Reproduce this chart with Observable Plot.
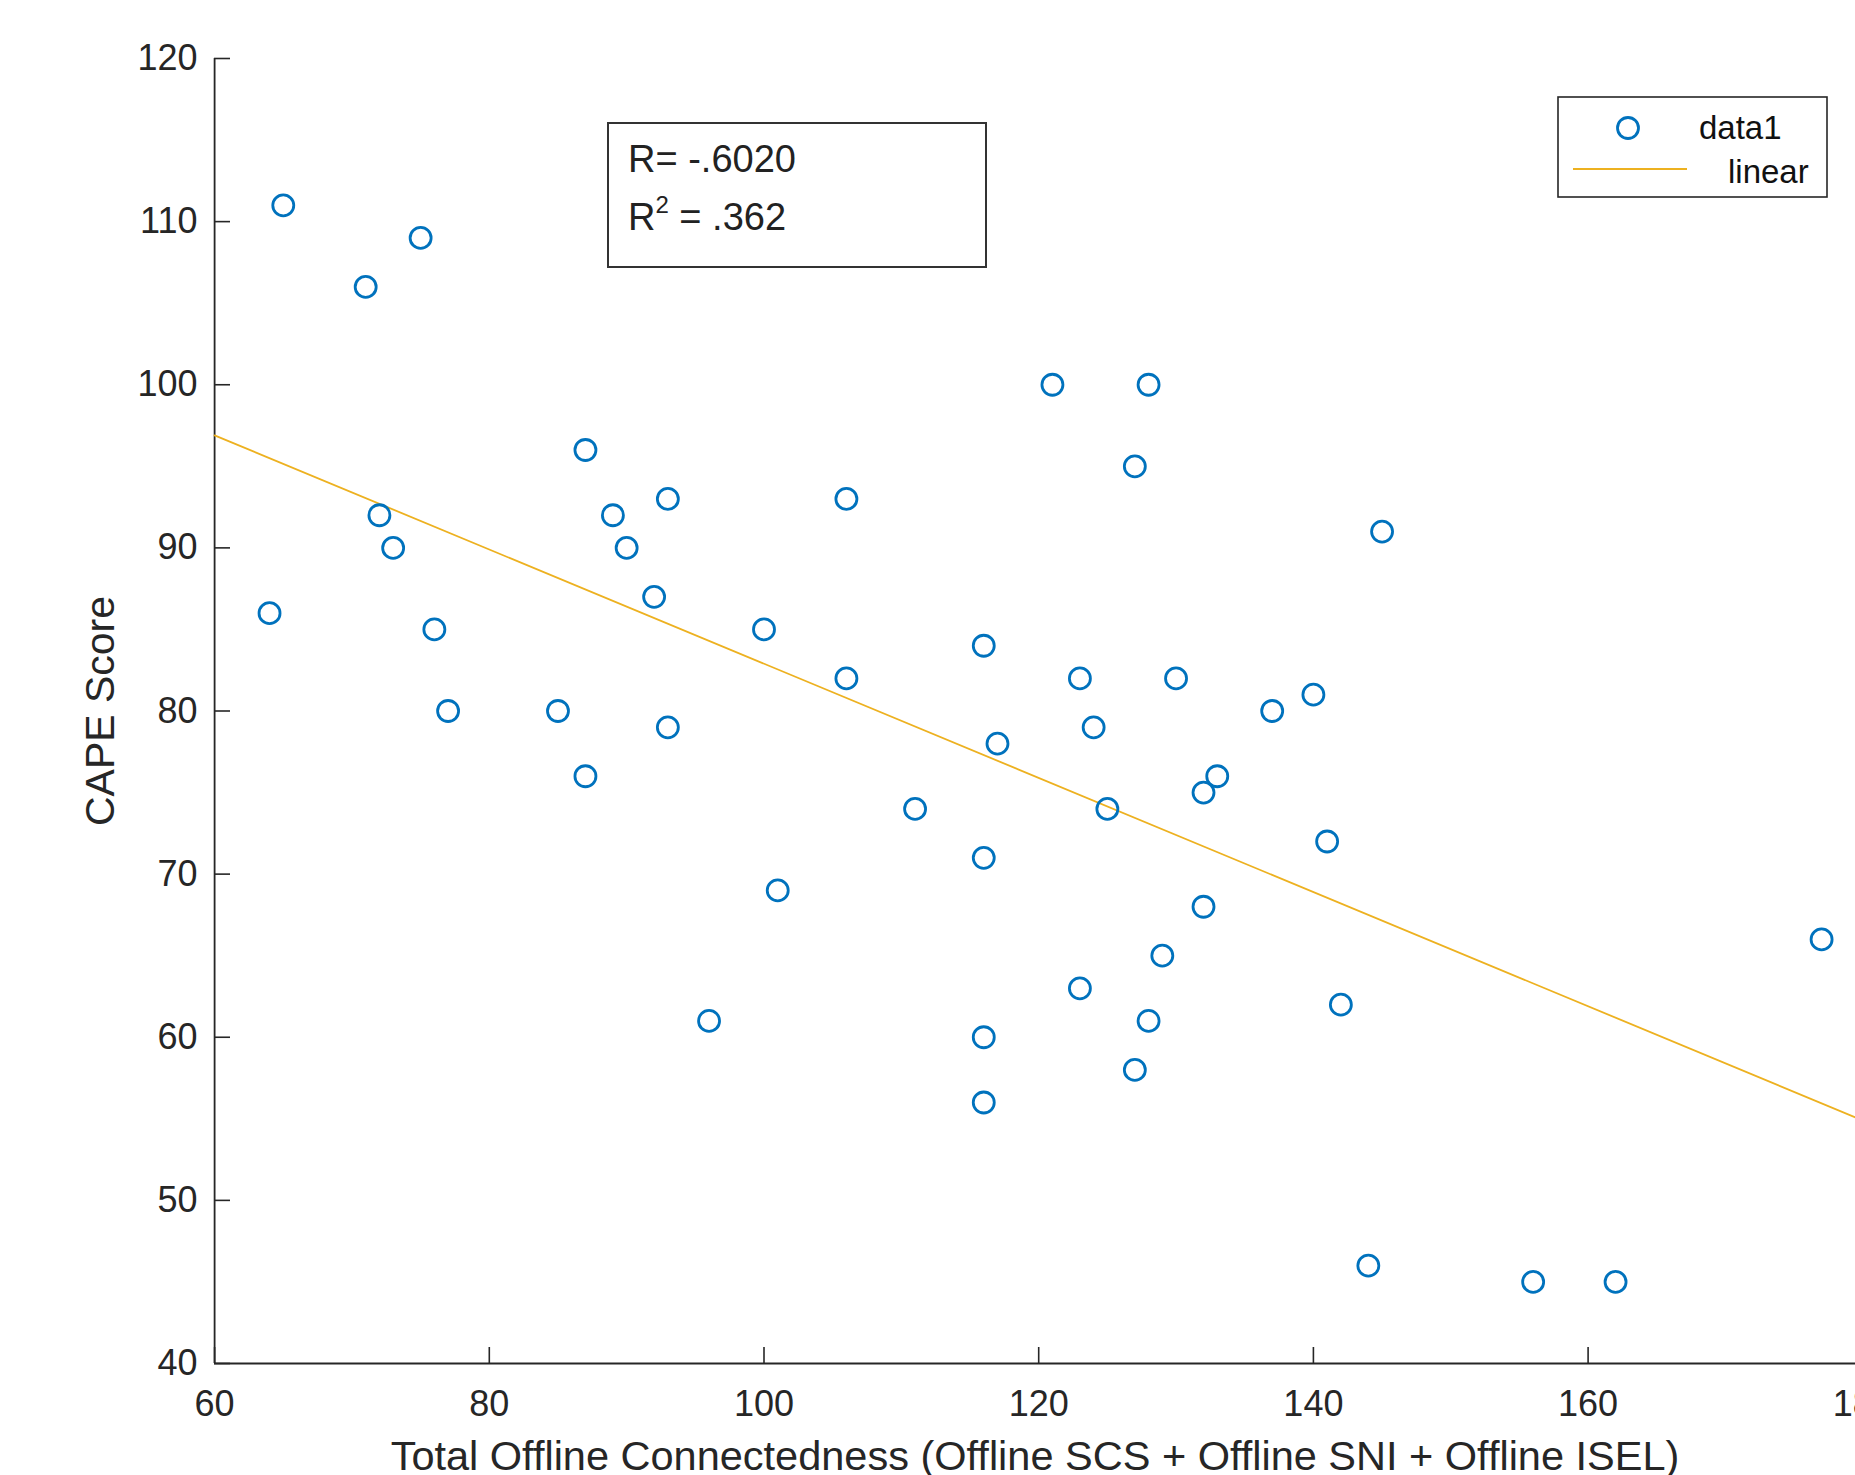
<!DOCTYPE html>
<html>
<head>
<meta charset="utf-8">
<script src="https://cdn.jsdelivr.net/npm/d3@7"></script>
<script src="https://cdn.jsdelivr.net/npm/@observablehq/plot@0.6"></script>
<style>
  html, body { margin: 0; padding: 0; background: #fff; overflow: hidden; }
  #wrap { position: relative; width: 1855px; height: 1475px; overflow: hidden; background: #fff; }
  #overlay { position: absolute; left: 0; top: 0; pointer-events: none; }
  #overlay text { font-family: "Liberation Sans", Arial, Helvetica, sans-serif; }
</style>
</head>
<body>
<div id="wrap"></div>
<script>
// ---- data ----
const offline = [65,75,71,64,72,73,76,77,85,87,87,89,90,92,93,93,96,100,101,106,106,111,116,116,116,116,117,121,123,123,124,125,127,127,128,128,129,130,132,132,133,137,140,141,142,144,145,156,162,177];
const cape    = [111,109,106,86,92,90,85,80,80,96,76,92,90,87,93,79,61,85,69,93,82,74,84,71,60,56,78,100,82,63,79,74,95,58,100,61,65,82,75,68,76,80,81,72,62,46,91,45,45,66];
const fitX = [60, 180];
const fitY = [96.9, 54.9];
const xTicks = [60, 80, 100, 120, 140, 160, 180];
const yTicks = [40, 50, 60, 70, 80, 90, 100, 110, 120];
const xLabel = "Total Offline Connectedness (Offline SCS + Offline SNI + Offline ISEL)";
const yLabel = "CAPE Score";
const statLines = ["R= -.6020", ".362"];
const legendLabels = ["data1", "linear"];

const points = offline.map((x, i) => ({x, y: cape[i]}));
const fit = fitX.map((x, i) => ({x, y: fitY[i]}));

const AX = "#262626";
const chart = Plot.plot({
  width: 1855,
  height: 1475,
  marginLeft: 214,
  marginTop: 58,
  marginBottom: 112,
  marginRight: 0,
  x: {domain: [60, 180], range: [214.1, 1862.3]},
  y: {domain: [40, 120], range: [1363, 58]},
  style: {fontFamily: '"Liberation Sans", Arial, Helvetica, sans-serif', fontSize: "36px", color: AX, background: "#fff", overflow: "hidden"},
  marks: [
    Plot.axisX(xTicks, {tickSize: 16, dy: -16, tickPadding: 27, stroke: AX, strokeWidth: 1.6, label: null, fontSize: 36}),
    Plot.axisY(yTicks, {tickSize: 16, dx: 16, tickPadding: 17, stroke: AX, strokeWidth: 1.6, label: null, fontSize: 36}),
    Plot.ruleX([60], {stroke: AX, strokeWidth: 1.8}),
    Plot.ruleY([40], {stroke: AX, strokeWidth: 1.8}),
    Plot.line(fit, {x: "x", y: "y", stroke: "#EDB120", strokeWidth: 1.8}),
    Plot.dot(points, {x: "x", y: "y", r: 10.5, stroke: "#0072BD", strokeWidth: 2.8, fill: "none"}),
    Plot.text([xLabel], {frameAnchor: "bottom", textAnchor: "middle", dy: 106, lineAnchor: "bottom", fontSize: 41.5, fill: AX}),
    Plot.text([yLabel], {frameAnchor: "left", textAnchor: "middle", dx: -101, rotate: -90, lineAnchor: "bottom", fontSize: 41, fill: AX})
  ]
});
const wrap = document.getElementById("wrap");
wrap.appendChild(chart);

// ---- overlays: stats box and legend ----
const ov = d3.select(wrap).append("svg").attr("id", "overlay").attr("width", 1855).attr("height", 1475);
// stats box
ov.append("rect").attr("x", 608).attr("y", 123).attr("width", 378).attr("height", 144)
  .attr("fill", "#fff").attr("stroke", "#333").attr("stroke-width", 2);
ov.append("text").attr("x", 628).attr("y", 172).attr("font-size", 38).attr("fill", "#222").text(statLines[0]);
const t2 = ov.append("text").attr("x", 628).attr("y", 230).attr("font-size", 38).attr("fill", "#222");
t2.append("tspan").text("R");
t2.append("tspan").attr("dy", -17).attr("font-size", 24).text("2");
t2.append("tspan").attr("dy", 17).attr("font-size", 38).text(" = " + statLines[1]);
// legend
const lg = ov.append("g").attr("transform", "translate(1558,97)");
lg.append("rect").attr("width", 269).attr("height", 100).attr("fill", "#fff").attr("stroke", AX).attr("stroke-width", 1.6);
lg.append("circle").attr("cx", 70).attr("cy", 31).attr("r", 10.5).attr("fill", "none").attr("stroke", "#0072BD").attr("stroke-width", 2.8);
lg.append("line").attr("x1", 15).attr("x2", 129).attr("y1", 72).attr("y2", 72).attr("stroke", "#EDB120").attr("stroke-width", 1.8);
lg.append("text").attr("x", 141).attr("y", 42).attr("font-size", 33).attr("fill", "#111").text(legendLabels[0]);
lg.append("text").attr("x", 170).attr("y", 86).attr("font-size", 33).attr("fill", "#111").text(legendLabels[1]);
</script>
</body>
</html>
